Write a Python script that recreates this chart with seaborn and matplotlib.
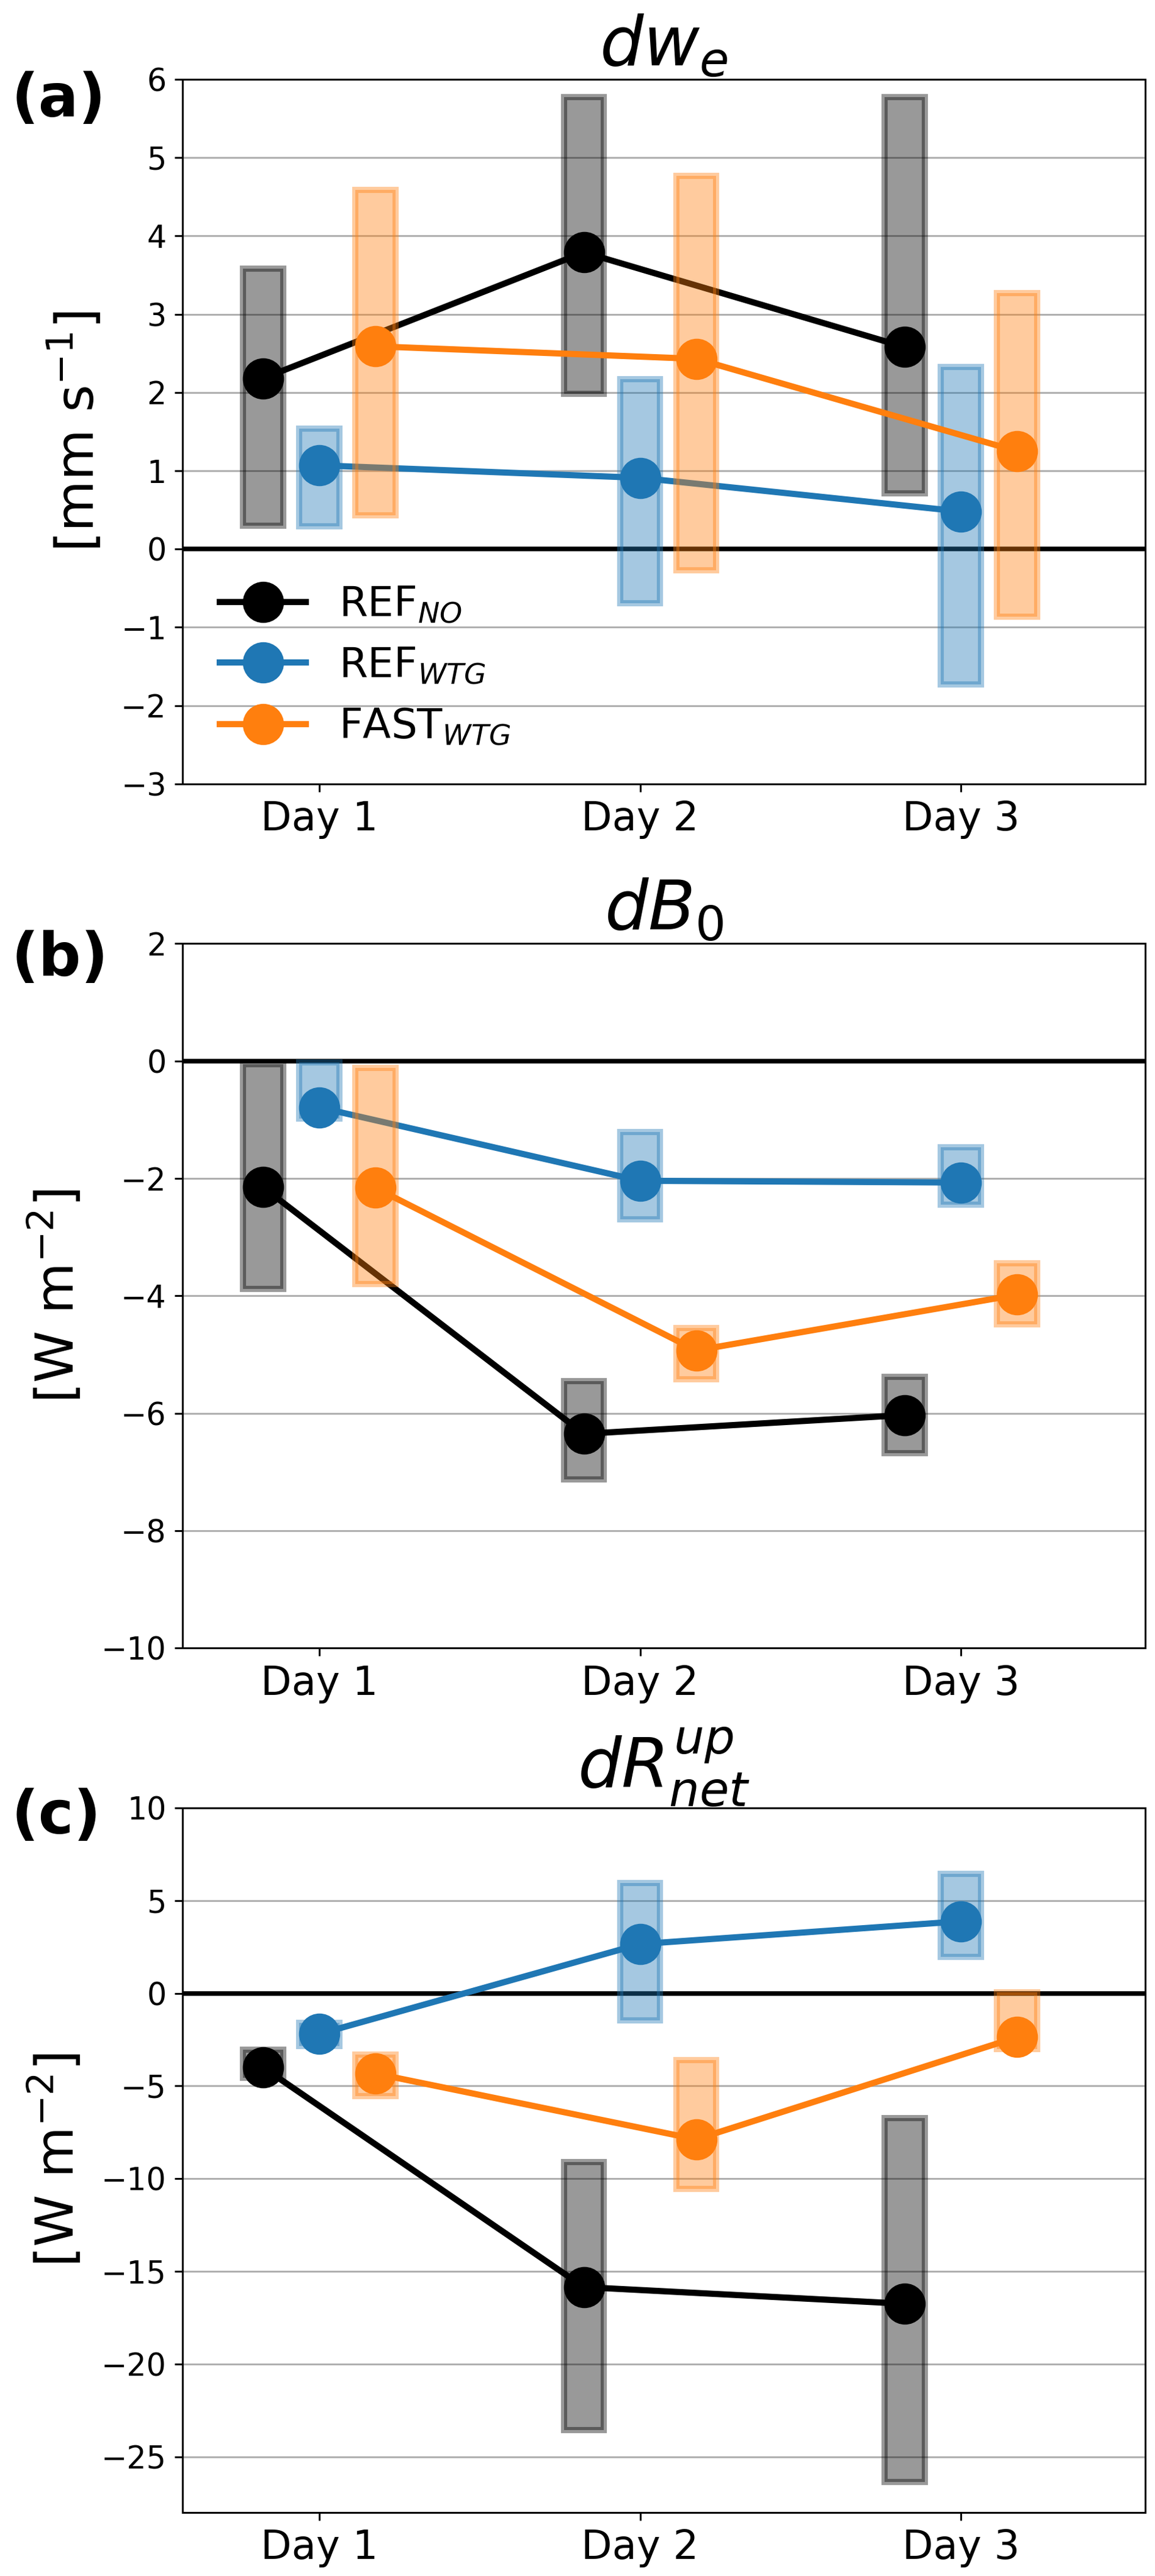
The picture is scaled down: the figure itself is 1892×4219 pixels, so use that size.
import matplotlib
matplotlib.use('Agg')
import matplotlib.pyplot as plt
import numpy as np
import seaborn as sns

# three runs, three days, one row per run (REF_NO, REF_WTG, FAST_WTG)
days = ['Day 1', 'Day 2', 'Day 3']
runs = [r'REF$_{NO}$', r'REF$_{WTG}$', r'FAST$_{WTG}$']
colors = ['black', 'tab:blue', 'tab:orange']
offsets = [-0.175, 0.0, 0.175]

# (a) dw_e  [mm s-1]
dwe_mean = [[2.18, 3.79, 2.58],
            [1.07, 0.91, 0.48],
            [2.59, 2.43, 1.25]]
dwe_lo = [[0.30, 1.98, 0.71],
          [0.29, -0.69, -1.73],
          [0.43, -0.27, -0.86]]
dwe_hi = [[3.58, 5.77, 5.77],
          [1.54, 2.17, 2.33],
          [4.59, 4.77, 3.27]]

# (b) dB_0  [W m-2]
db0_mean = [[-2.15, -6.35, -6.03],
            [-0.79, -2.04, -2.07],
            [-2.16, -4.93, -3.98]]
db0_lo = [[-3.88, -7.13, -6.68],
          [-0.98, -2.70, -2.45],
          [-3.80, -5.42, -4.49]]
db0_hi = [[-0.05, -5.45, -5.38],
          [-0.02, -1.21, -1.47],
          [-0.12, -4.55, -3.45]]

# (c) dR_net^up  [W m-2]
drn_mean = [[-4.00, -15.85, -16.75],
            [-2.20, 2.65, 3.88],
            [-4.33, -7.88, -2.37]]
drn_lo = [[-4.55, -23.55, -26.35],
          [-2.85, -1.45, 1.95],
          [-5.55, -10.55, -3.00]]
drn_hi = [[-3.05, -9.10, -6.75],
          [-1.60, 5.95, 6.45],
          [-3.30, -3.60, 0.05]]

panels = [
    (dwe_mean, dwe_lo, dwe_hi, r'$dw_e$', r'[mm s$^{-1}$]', (-3, 6), np.arange(-3, 7, 1), '(a)', 0.971),
    (db0_mean, db0_lo, db0_hi, r'$dB_0$', r'[W m$^{-2}$]', (-10, 2), np.arange(-10, 3, 2), '(b)', 0.978),
    (drn_mean, drn_lo, drn_hi, r'$dR_{net}^{up}$', r'[W m$^{-2}$]', (-28, 10), np.arange(-25, 11, 5), '(c)', 0.987),
]

fig, axes = plt.subplots(3, 1, figsize=(1892 / 270, 4219 / 270), dpi=270)
fig.subplots_adjust(left=0.158, right=0.9915, top=0.9692, bottom=0.0247, hspace=0.2266)

x = np.arange(len(days))
for ax, (mean, lo, hi, title, ylab, ylim, yt, tag, tag_y) in zip(axes, panels):
    ax.grid(axis='y', color='#b0b0b0', lw=0.8)
    ax.axhline(0, color='k', lw=2, zorder=1.8)
    for i in range(len(runs)):
        xs = x + offsets[i]
        ax.bar(xs, np.array(hi[i]) - np.array(lo[i]), bottom=lo[i], width=0.125,
               color=colors[i], alpha=0.4, edgecolor=colors[i], linewidth=2.7, zorder=2 + 2 * i)
        sns.lineplot(x=xs, y=mean[i], ax=ax, color=colors[i], lw=2.7, marker='o',
                     markersize=18, markeredgewidth=0, markeredgecolor=colors[i],
                     errorbar=None, legend=False, label=runs[i], zorder=3 + 2 * i)

    ax.set_xlim(-0.426, 2.574)
    ax.set_ylim(*ylim)
    ax.set_yticks(yt)
    ax.set_xticks(x)
    ax.set_xticklabels(days, fontsize=17.5)
    ax.tick_params(axis='y', labelsize=13.5)
    ax.set_xlabel('')
    ax.set_ylabel(ylab, fontsize=23, labelpad=7)
    ax.set_title(title, fontsize=30, pad=1.5)
    ax.text(-0.178, tag_y, tag, transform=ax.transAxes, fontsize=26,
            fontweight='bold', ha='left', va='center')

axes[0].legend(loc='lower left', fontsize=18, frameon=False, handlelength=2.1)

fig.savefig('out.png', dpi=270)
